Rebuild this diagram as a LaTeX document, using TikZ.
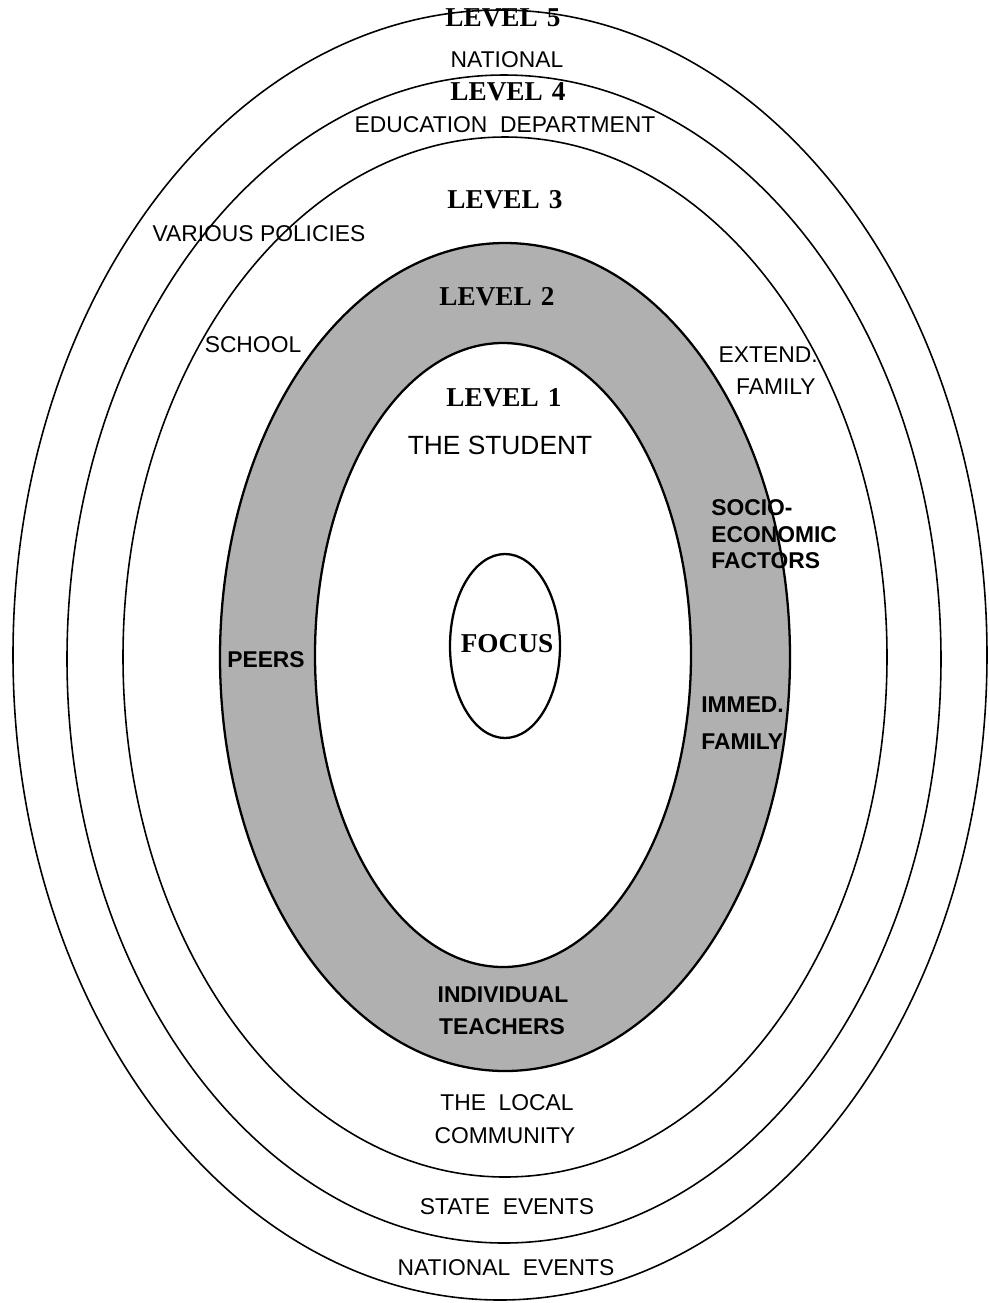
\documentclass[tikz,border=0pt]{standalone}
\usepackage{fontspec}
\setmainfont{Liberation Sans}
\newfontfamily\levelfont{Liberation Serif}
\definecolor{stipple}{gray}{0.69}

\begin{document}
\begin{tikzpicture}[x=0.02cm,y=-0.02cm,
  rim/.style={draw=black,line width=0.9pt},
  rimbold/.style={draw=black,line width=1.3pt},
  lvl/.style={inner sep=0pt,font=\levelfont\bfseries\fontsize{15.5}{17}\selectfont},
  tag/.style={inner sep=0pt,font=\fontsize{13}{16}\selectfont},
  tagb/.style={inner sep=0pt,font=\bfseries\fontsize{13}{16}\selectfont}]
  \useasboundingbox (0,0) rectangle (989,1303);

  % the five levels, outermost first
  \draw[rim] (500,655) ellipse [x radius=487,y radius=645];
  \draw[rim] (504,659) ellipse [x radius=437,y radius=584];
  \draw[rim] (505,657) ellipse [x radius=382,y radius=520];
  \fill[stipple] (505,657) ellipse [x radius=285,y radius=414];
  \draw[rimbold] (505,657) ellipse [x radius=285,y radius=414];
  \filldraw[rimbold,fill=white] (503,655) ellipse [x radius=188,y radius=312];
  \draw[rimbold] (505,646) ellipse [x radius=55,y radius=92];

  % level 5 and 4
  \node[lvl] (lvlfive) at (503,18) {LEVEL\,\,5};
  \node[tag] (national) at (507,60) {NATIONAL};
  \node[lvl] (lvlfour) at (508,92) {LEVEL\,\,4};
  \node[tag] (edudept) at (505,125) {EDUCATION\ \ DEPARTMENT};

  % level 3
  \node[lvl] (lvlthree) at (505,200) {LEVEL\,\,3};
  \node[tag] (policies) at (259,234) {VARIOUS POLICIES};
  \node[tag] (school) at (253,345) {SCHOOL};
  \node[tag,anchor=east] (extend) at (818,355) {EXTEND.};
  \node[tag,anchor=east] (extfamily) at (816,387) {FAMILY};
  \node[tagb,anchor=west] (socio) at (711,508) {SOCIO-};
  \node[tagb,anchor=west] (economic) at (711,535) {ECONOMIC};
  \node[tagb,anchor=west] (factors) at (711,561) {FACTORS};

  % level 2 (shaded ring)
  \node[lvl] (lvltwo) at (497,297) {LEVEL\,\,2};
  \node[tagb] (peers) at (266,660) {PEERS};
  \node[tagb,anchor=west] (immed) at (701,705) {IMMED.};
  \node[tagb,anchor=west] (immfamily) at (701,742) {FAMILY};
  \node[tagb] (individual) at (503,995) {INDIVIDUAL};
  \node[tagb] (teachers) at (502,1027) {TEACHERS};

  % level 1
  \node[lvl] (lvlone) at (504,398) {LEVEL\,\,1};
  \node[tag,font=\fontsize{15}{18}\selectfont] (student) at (500,445) {THE STUDENT};
  \node[lvl,font=\levelfont\bfseries\fontsize{15.5}{18}\selectfont] (focus) at (507,644) {FOCUS};

  % bottom of the outer levels
  \node[tag] (local) at (507,1103) {THE\ \ LOCAL};
  \node[tag] (community) at (505,1136) {COMMUNITY};
  \node[tag] (state) at (507,1207) {STATE\ \ EVENTS};
  \node[tag] (natevents) at (506,1268) {NATIONAL\ \ EVENTS};
\end{tikzpicture}
\end{document}
